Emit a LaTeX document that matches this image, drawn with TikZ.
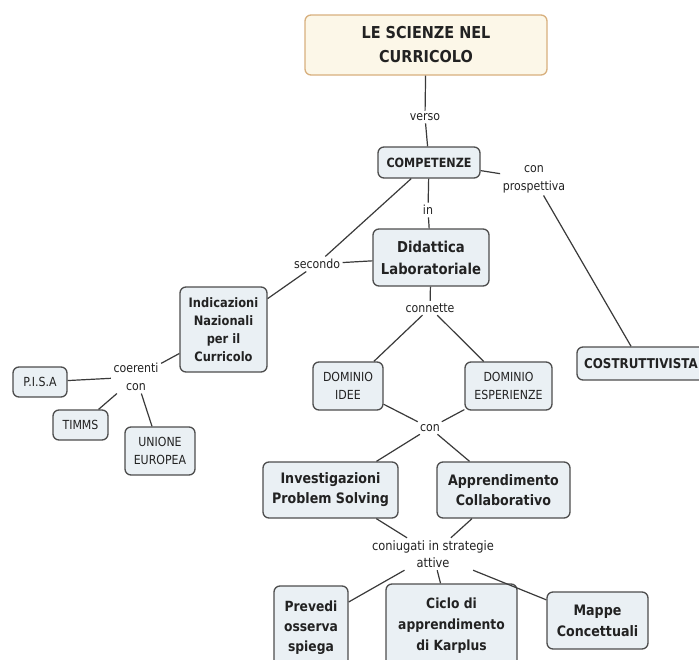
\documentclass[tikz,border=0pt]{standalone}
\usepackage{fontspec}
\setmainfont{DejaVu Sans}[FakeStretch=0.88]
\usetikzlibrary{calc}
\definecolor{nodefill}{HTML}{EAF0F4}
\definecolor{nodedraw}{HTML}{4D4D4D}
\definecolor{topfill}{HTML}{FCF7E8}
\definecolor{topdraw}{HTML}{D8B07E}
\definecolor{inkc}{HTML}{222222}
\definecolor{linec}{HTML}{3A3A3A}
\newcommand{\fs}[2]{\fontsize{#1}{#2}\selectfont}
\begin{document}
\begin{tikzpicture}[x=1pt,y=-1pt,
  box/.style={draw=nodedraw, fill=nodefill, rounded corners=6pt, line width=1.3pt,
    align=center, inner sep=0pt, text=inkc, font=\bfseries\fs{13}{18}},
  pbox/.style={box, font=\fs{12.5}{18}},
  topbox/.style={box, draw=topdraw, fill=topfill, font=\bfseries\fs{16.4}{24}},
  lbl/.style={align=center, inner sep=2.5pt, text=inkc, font=\fs{12.5}{18}},
  conn/.style={draw=linec, line width=1.2pt}]
\fill[white] (0,0) rectangle (699,659);
\useasboundingbox (0,0) rectangle (699,659);

\node[topbox, minimum width=242pt, minimum height=60pt] (top) at (426,45) {LE SCIENZE NEL\\CURRICOLO};
\node[lbl] (verso) at (425,117) {verso};
\node[box, font=\bfseries\fs{12.7}{16}, minimum width=102pt, minimum height=31pt] (comp) at (429,162.5) {COMPETENZE};
\node[lbl] (prosp) at (534,179) {con\\prospettiva};
\node[lbl] (in) at (428,210) {in};
\node[box, font=\bfseries\fs{15}{22}, minimum width=116pt, minimum height=57pt] (did) at (431,257.5) {Didattica\\Laboratoriale};
\node[lbl] (sec) at (317,264) {secondo};
\node[box, minimum width=87pt, minimum height=85pt] (ind) at (223.5,329.5) {Indicazioni\\Nazionali\\per il\\Curricolo};
\node[lbl] (coer) at (136,377) {coerenti\\con};
\node[pbox, minimum width=54pt, minimum height=30pt] (pisa) at (40,382) {P.I.S.A};
\node[pbox, minimum width=55pt, minimum height=30pt] (timms) at (80.5,425) {TIMMS};
\node[pbox, minimum width=70pt, minimum height=48pt] (ue) at (160,451) {UNIONE\\EUROPEA};
\node[lbl] (connette) at (430,308) {connette};
\node[pbox, minimum width=70pt, minimum height=48pt] (idee) at (348,386) {DOMINIO\\IDEE};
\node[pbox, minimum width=87pt, minimum height=48pt] (esp) at (508.5,386) {DOMINIO\\ESPERIENZE};
\node[box, font=\bfseries\fs{13.5}{16}, minimum width=128pt, minimum height=33pt] (costr) at (641,363.5) {COSTRUTTIVISTA};
\node[lbl] (con) at (430,428) {con};
\node[box, font=\bfseries\fs{14.4}{20}, minimum width=135pt, minimum height=56pt] (inv) at (330.5,490) {Investigazioni\\Problem Solving};
\node[box, font=\bfseries\fs{14.4}{20}, minimum width=133pt, minimum height=56pt] (app) at (503.5,490) {Apprendimento\\Collaborativo};
\node[lbl, font=\fs{13}{17}] (coniug) at (433,554) {coniugati in strategie\\attive};
\node[box, font=\bfseries\fs{14}{20}, minimum width=74pt, minimum height=84pt] (prev) at (311,628) {Prevedi\\osserva\\spiega};
\node[box, font=\bfseries\fs{14}{21}, minimum width=131pt, minimum height=84pt] (ciclo) at (451.5,626) {Ciclo di\\apprendimento\\di Karplus};
\node[box, font=\bfseries\fs{14.4}{21}, minimum width=101pt, minimum height=57pt] (mappe) at (597.5,620.5) {Mappe\\Concettuali};

\draw[conn] (top) -- (verso);
\draw[conn] (verso) -- (comp);
\draw[conn] (comp) -- (prosp);
\draw[conn] (prosp) -- (costr);
\draw[conn] (comp) -- (in);
\draw[conn] (in) -- (did);
\draw[conn] (comp) -- (sec);
\draw[conn] (sec) -- (did);
\draw[conn] (sec) -- (ind);
\draw[conn] (ind) -- (coer);
\draw[conn] (coer) -- (pisa);
\draw[conn] (coer) -- (timms);
\draw[conn] (coer) -- (ue);
\draw[conn] (did) -- (connette);
\draw[conn] (connette) -- (idee);
\draw[conn] (connette) -- (esp);
\draw[conn] (idee) -- (con);
\draw[conn] (esp) -- (con);
\draw[conn] (con) -- (inv);
\draw[conn] (con) -- (app);
\draw[conn] (inv) -- (coniug);
\draw[conn] (app) -- (coniug);
\draw[conn] (coniug) -- ($(prev.east)+(0,-26)$);
\draw[conn] (coniug) -- (ciclo);
\draw[conn] (coniug) -- (mappe);
\end{tikzpicture}
\end{document}
